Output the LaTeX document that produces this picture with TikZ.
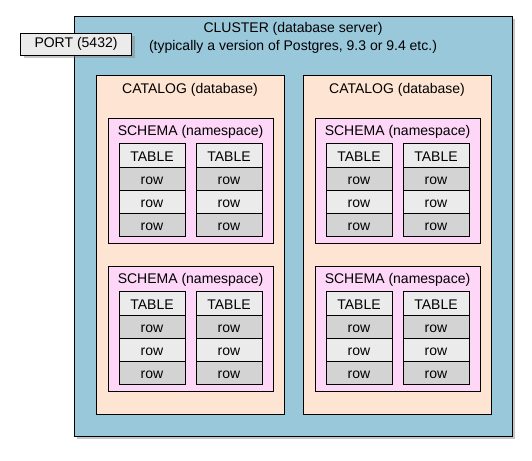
\documentclass[tikz,border=0pt]{standalone}
\usepackage{fontspec}
\setmainfont{Liberation Sans}
\usetikzlibrary{shadows}
\definecolor{clusterblue}{HTML}{9AC8DB}
\definecolor{catpeach}{HTML}{FEE5D3}
\definecolor{schpink}{HTML}{FDD6F8}
\definecolor{lightgr}{HTML}{EBEBEB}
\definecolor{darkgr}{HTML}{D3D3D3}
\begin{document}
\begin{tikzpicture}[x=1pt,y=-1pt,
  every node/.style={inner sep=0pt,outer sep=0pt,font=\fontsize{14}{18}\selectfont},
  box/.style={draw=black,line width=0.9pt,rectangle},
  clusterbox/.style={box,fill=clusterblue,drop shadow={shadow xshift=3pt,shadow yshift=-3pt,opacity=0.45}},
  portbox/.style={box,fill=lightgr,drop shadow={shadow xshift=3pt,shadow yshift=-3pt,opacity=0.45}},
  catbox/.style={box,fill=catpeach},
  schbox/.style={box,fill=schpink},
  cell/.style={box,text height=14pt,text depth=2pt,minimum width=66pt},
  tabhead/.style={cell,fill=lightgr,minimum height=24pt},
  rowdark/.style={cell,fill=darkgr,minimum height=23pt},
  rowlight/.style={cell,fill=lightgr,minimum height=23pt},
  lbl/.style={align=center}
]
\useasboundingbox (0,0) rectangle (532,460);
\node[clusterbox,minimum width=438pt,minimum height=420pt] (cluster) at (293,226) {};
\node[lbl] (clusterlbl) at (293,38) {CLUSTER (database server)\\(typically a version of Postgres, 9.3 or 9.4 etc.)};
\node[portbox,minimum width=111pt,minimum height=22pt] (port) at (76,44) {PORT (5432)};
\foreach \c/\dx in {0/0,1/207}{
  \node[catbox,minimum width=188pt,minimum height=339pt] (cat\c) at (190+\dx,244.5) {};
  \node (catlbl\c) at (190+\dx,89.5) {CATALOG (database)};
  \foreach \s/\dy in {0/0,1/148}{
    \node[schbox,minimum width=165pt,minimum height=125pt] (sch\c\s) at (190.5+\dx,180.5+\dy) {};
    \node (schlbl\c\s) at (190.5+\dx,131.5+\dy) {SCHEMA (namespace)};
    \foreach \t/\tx in {0/152,1/229}{
      \node[tabhead] (tab\c\s\t) at (\tx+\dx,155+\dy) {TABLE};
      \node[rowdark] (row\c\s\t a) at (\tx+\dx,178.5+\dy) {row};
      \node[rowlight] (row\c\s\t b) at (\tx+\dx,201.5+\dy) {row};
      \node[rowdark] (row\c\s\t c) at (\tx+\dx,224.5+\dy) {row};
    }
  }
}
\end{tikzpicture}
\end{document}
